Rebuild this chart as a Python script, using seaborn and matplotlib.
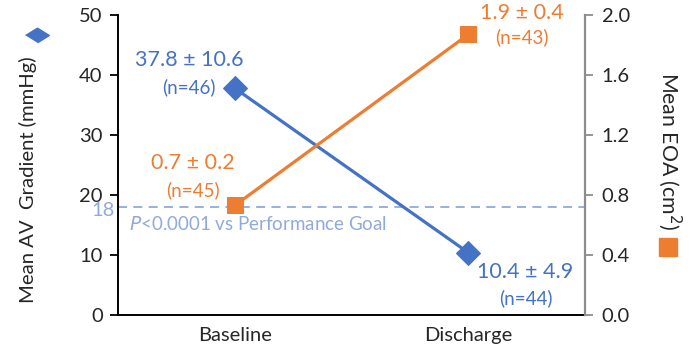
import pandas as pd
import numpy as np
import matplotlib
matplotlib.use("Agg")
import matplotlib.pyplot as plt
from matplotlib.lines import Line2D
import seaborn as sns

# ---- data ----
timepoints = ["Baseline", "Discharge"]
gradient = [37.8, 10.4]            # mmHg, left axis
eoa = [0.73, 1.87]                 # cm2, right axis
gradient_text = ["37.8 ± 10.6", "10.4 ± 4.9"]
gradient_n = ["(n=46)", "(n=44)"]
eoa_text = ["0.7 ± 0.2", "1.9 ± 0.4"]
eoa_n = ["(n=45)", "(n=43)"]
goal = 18
left_ticks = [0, 10, 20, 30, 40, 50]
right_ticks = [0.0, 0.4, 0.8, 1.2, 1.6, 2.0]

blue = "#4472C4"
orange = "#ED7D31"
light_blue = "#8FAADC"

sns.set_style("white")
plt.rcParams["font.family"] = ["Lato", "DejaVu Sans"]

df = pd.DataFrame({"timepoint": timepoints, "gradient": gradient, "eoa": eoa})
df["x"] = np.arange(len(df))

fig = plt.figure(figsize=(7, 3.51), dpi=100)
ax = fig.add_axes([0.1686, 0.1026, 0.6671, 0.8547])
ax2 = ax.twinx()

# performance goal line (under the series)
ax.axhline(goal, color=light_blue, lw=1.3, ls=(0, (5, 3.5)), zorder=1)

sns.lineplot(data=df, x="x", y="gradient", ax=ax, color=blue, lw=2.3,
             marker="D", markersize=12, markeredgecolor=blue, zorder=4)
sns.lineplot(data=df, x="x", y="eoa", ax=ax2, color=orange, lw=2.3,
             marker="s", markersize=11.5, markeredgecolor=orange, zorder=4)

ax.set_xlim(-0.5, 1.5)
ax.set_ylim(0, 50)
ax2.set_ylim(0, 2.0)
ax.set_yticks(left_ticks)
ax2.set_yticks(right_ticks)
ax2.set_yticklabels([f"{t:.1f}" for t in right_ticks])

# x axis: labels at centres, ticks at category boundaries
ax.set_xticks(df["x"])
ax.set_xticklabels(timepoints, fontsize=14.5)
ax.tick_params(axis="x", which="major", length=0, pad=9)
ax.set_xticks([-0.5, 0.5, 1.5], minor=True)
ax.tick_params(axis="x", which="minor", length=11, width=1.3, color="black", direction="out")
ax.set_xlabel("")

ax.tick_params(axis="y", labelsize=14.5, length=6, width=1.3, color="black", pad=5)
ax2.tick_params(axis="y", labelsize=14.5, length=6, width=1.3, color="#8C8C8C", pad=6)
ax2.set_xlabel("")

ax.spines["top"].set_visible(False)
ax2.spines["top"].set_visible(False)
ax.spines["right"].set_visible(False)
ax.spines["left"].set_color("black")
ax.spines["left"].set_linewidth(1.4)
ax.spines["bottom"].set_color("black")
ax.spines["bottom"].set_linewidth(1.4)
ax2.spines["left"].set_visible(False)
ax2.spines["bottom"].set_visible(False)
ax2.spines["right"].set_color("#8C8C8C")
ax2.spines["right"].set_linewidth(1.6)

ax.set_ylabel("Mean AV  Gradient (mmHg)", fontsize=14.6)
ax2.set_ylabel("Mean EOA (cm$^2$)", fontsize=15.3, rotation=270, va="center")
ax.yaxis.set_label_coords(-0.173, 0.45)
ax2.yaxis.set_label_coords(1.182, 0.547)

# legend-like markers next to the axis titles
fig.add_artist(Line2D([37 / 700], [1 - 35 / 351], transform=fig.transFigure, ls="none",
                      marker=[(-1, 0), (0, 0.62), (1, 0), (0, -0.62)], markersize=17,
                      color=blue, markeredgecolor=blue))
fig.add_artist(Line2D([668 / 700], [1 - 247 / 351], transform=fig.transFigure, ls="none",
                      marker="s", markersize=12.5, color=orange, markeredgecolor=orange))

ax.text(-0.515, goal - 0.6, str(goal), color=light_blue, fontsize=14.5, ha="right", va="center")
ax.text(-0.455, goal - 1.3, "$\\it{P}$<0.0001 vs Performance Goal", color=light_blue,
        fontsize=13.5, ha="left", va="top")

# value annotations
ax.text(-0.197, gradient[0] + 4.7, gradient_text[0], color=blue, fontsize=15.5, ha="center", va="center")
ax.text(-0.197, gradient[0] + 0.2, gradient_n[0], color=blue, fontsize=13.5, ha="center", va="center")
ax.text(1.245, gradient[1] - 3.2, gradient_text[1], color=blue, fontsize=15.5, ha="center", va="center")
ax.text(1.245, gradient[1] - 7.6, gradient_n[1], color=blue, fontsize=13.5, ha="center", va="center")
ax2.text(-0.18, eoa[0] + 0.28, eoa_text[0], color=orange, fontsize=15.5, ha="center", va="center")
ax2.text(-0.18, eoa[0] + 0.10, eoa_n[0], color=orange, fontsize=13.5, ha="center", va="center")
ax2.text(1.23, eoa[1] + 0.14, eoa_text[1], color=orange, fontsize=15.5, ha="center", va="center")
ax2.text(1.23, eoa[1] - 0.02, eoa_n[1], color=orange, fontsize=13.5, ha="center", va="center")

fig.savefig("out.png", dpi=100)
